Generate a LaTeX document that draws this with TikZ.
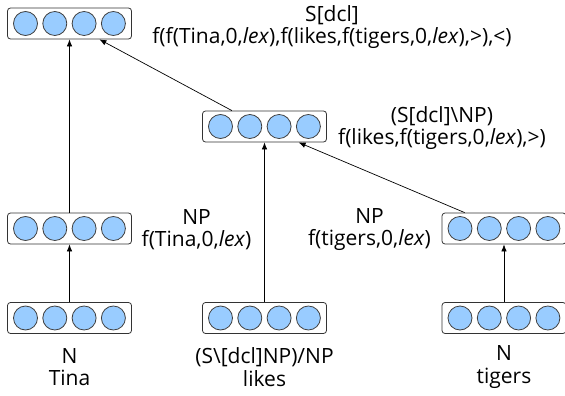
\documentclass[tikz,border=0pt]{standalone}
\usepackage{fontspec}
\setmainfont{Open Sans}
\usetikzlibrary{arrows.meta,calc}
\definecolor{celblue}{HTML}{99CCFF}
\tikzset{
  vecbox/.style={draw=black!80, line width=0.8pt, rounded corners=3pt, minimum width=124pt, minimum height=31pt, inner sep=0pt},
  cell/.style={circle, draw=black!75, line width=0.8pt, fill=celblue, minimum size=24pt, inner sep=0pt},
  lbl/.style={align=center, font=\fontsize{21}{22.5}\selectfont, inner sep=0pt},
  arr/.style={-{Latex[length=7pt,width=5.5pt]}, line width=0.7pt, black},
}
\newcommand{\vecb}[3]{%
  \node[vecbox] (#1) at (#2,#3) {};
  \foreach \i in {0,1,2,3} {\node[cell] at ($(#1.center)+(-44+\i*29.3,0)$) {};}
}
\begin{document}
\begin{tikzpicture}[x=1pt,y=-1pt]
\useasboundingbox (0,0) rectangle (565,396);
\vecb{T}{69.5}{23.5}
\vecb{M}{264.5}{126.5}
\vecb{A}{69.5}{228.5}
\vecb{B}{504}{228.5}
\vecb{C}{69.5}{318}
\vecb{D}{264.5}{318}
\vecb{E}{504}{318}
\draw[arr] (C.north) -- (A.south);
\draw[arr] (A.north) -- (T.south);
\draw[arr] (D.north) -- (M.south);
\draw[arr] (E.north) -- (B.south);
\draw[arr] (B.158) -- (M.-25);
\draw[arr] (M.154) -- (T.-28);
\node[lbl] (lt) at (332,27) {S[dcl]\\f(f(Tina,0,\textit{lex}),f(likes,f(tigers,0,\textit{lex}),>),<)};
\node[lbl] (lm) at (442,128) {(S[dcl]\textbackslash NP)\\f(likes,f(tigers,0,\textit{lex}),>)};
\node[lbl] (la) at (196.5,229.5) {NP\\f(Tina,0,\textit{lex})};
\node[lbl] (lb) at (369.5,229.5) {NP\\f(tigers,0,\textit{lex})};
\node[lbl] (lc) at (69.5,367) {N\\Tina};
\node[lbl] (ld) at (264.5,367) {(S\textbackslash[dcl]NP)/NP\\likes};
\node[lbl] (le) at (504,367) {N\\tigers};
\end{tikzpicture}
\end{document}
